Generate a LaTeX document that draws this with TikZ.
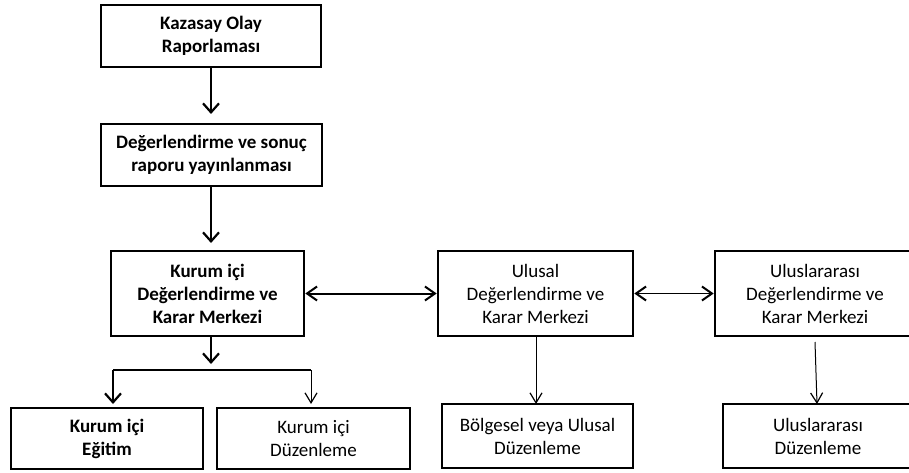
\documentclass[tikz,border=0pt]{standalone}
\usepackage{fontspec}
\setmainfont{Carlito}
\usetikzlibrary{arrows.meta}
\begin{document}
\begin{tikzpicture}[x=1pt,y=-1pt,
  box/.style={draw=black,line width=2.6pt,align=center,inner sep=0pt,font=\fontsize{19}{23}\selectfont},
  thk/.style={line width=2.2pt,-{Straight Barb[length=9pt,width=16pt,line width=2.2pt]}},
  thn/.style={line width=1pt,-{Straight Barb[length=10pt,width=12pt,line width=1.2pt]}},
  bi/.style={line width=2pt,{Straight Barb[length=10pt,width=14pt,line width=2pt]}-{Straight Barb[length=10pt,width=14pt,line width=2pt]}}]
\useasboundingbox (0,0) rectangle (909,473);
\clip (0,0) rectangle (909,473);
\node[box,minimum width=220pt,minimum height=62pt] (k) at (211,36) {\bfseries Kazasay Olay\\\bfseries Raporlaması};
\node[box,minimum width=221pt,minimum height=62pt] (d) at (211.5,155) {\bfseries Değerlendirme ve sonuç\\\bfseries raporu yayınlanması};
\node[box,minimum width=193pt,minimum height=85pt] (ki) at (207.5,293.5) {\bfseries Kurum içi\\\bfseries Değerlendirme ve\\\bfseries Karar Merkezi};
\node[box,minimum width=195pt,minimum height=85pt] (u) at (535.5,293.5) {Ulusal\\Değerlendirme ve\\Karar Merkezi};
\node[box,minimum width=200pt,minimum height=85pt] (ul) at (815,293.5) {Uluslararası\\Değerlendirme ve\\Karar Merkezi};
\node[box,minimum width=192pt,minimum height=61pt] (e) at (107,438.5) {\bfseries Kurum içi\\\bfseries Eğitim};
\node[box,minimum width=193pt,minimum height=61pt] (dz) at (313.5,438.5) {Kurum içi\\Düzenleme};
\node[box,minimum width=191pt,minimum height=64pt] (b) at (537.5,436) {Bölgesel veya Ulusal\\Düzenleme};
\node[box,minimum width=190pt,minimum height=64pt] (ud) at (818,436) {Uluslararası\\Düzenleme};
\coordinate (a1) at (211,114);
\coordinate (a2) at (211,243);
\coordinate (a3) at (211,364);
\coordinate (hl) at (113,370);
\coordinate (hr) at (311,370);
\coordinate (el) at (113,404);
\coordinate (er) at (311,404);
\coordinate (us) at (536,336);
\coordinate (ue) at (536,404);
\coordinate (ls) at (815,342);
\coordinate (le) at (817,404);
\draw[thk] (k.south -| a1) -- (a1);
\draw[thk] (d.south -| a2) -- (a2);
\draw[thk] (ki.south -| a3) -- (a3);
\draw[line width=2.2pt] (hl) -- (hr);
\draw[thk] (hl) -- (el);
\draw[thn] (hr) -- (er);
\draw[bi] (ki.east) -- (u.west);
\draw[bi,line width=1.5pt] (u.east) -- (ul.west);
\draw[thn] (us) -- (ue);
\draw[thn] (ls) -- (le);
\end{tikzpicture}
\end{document}
